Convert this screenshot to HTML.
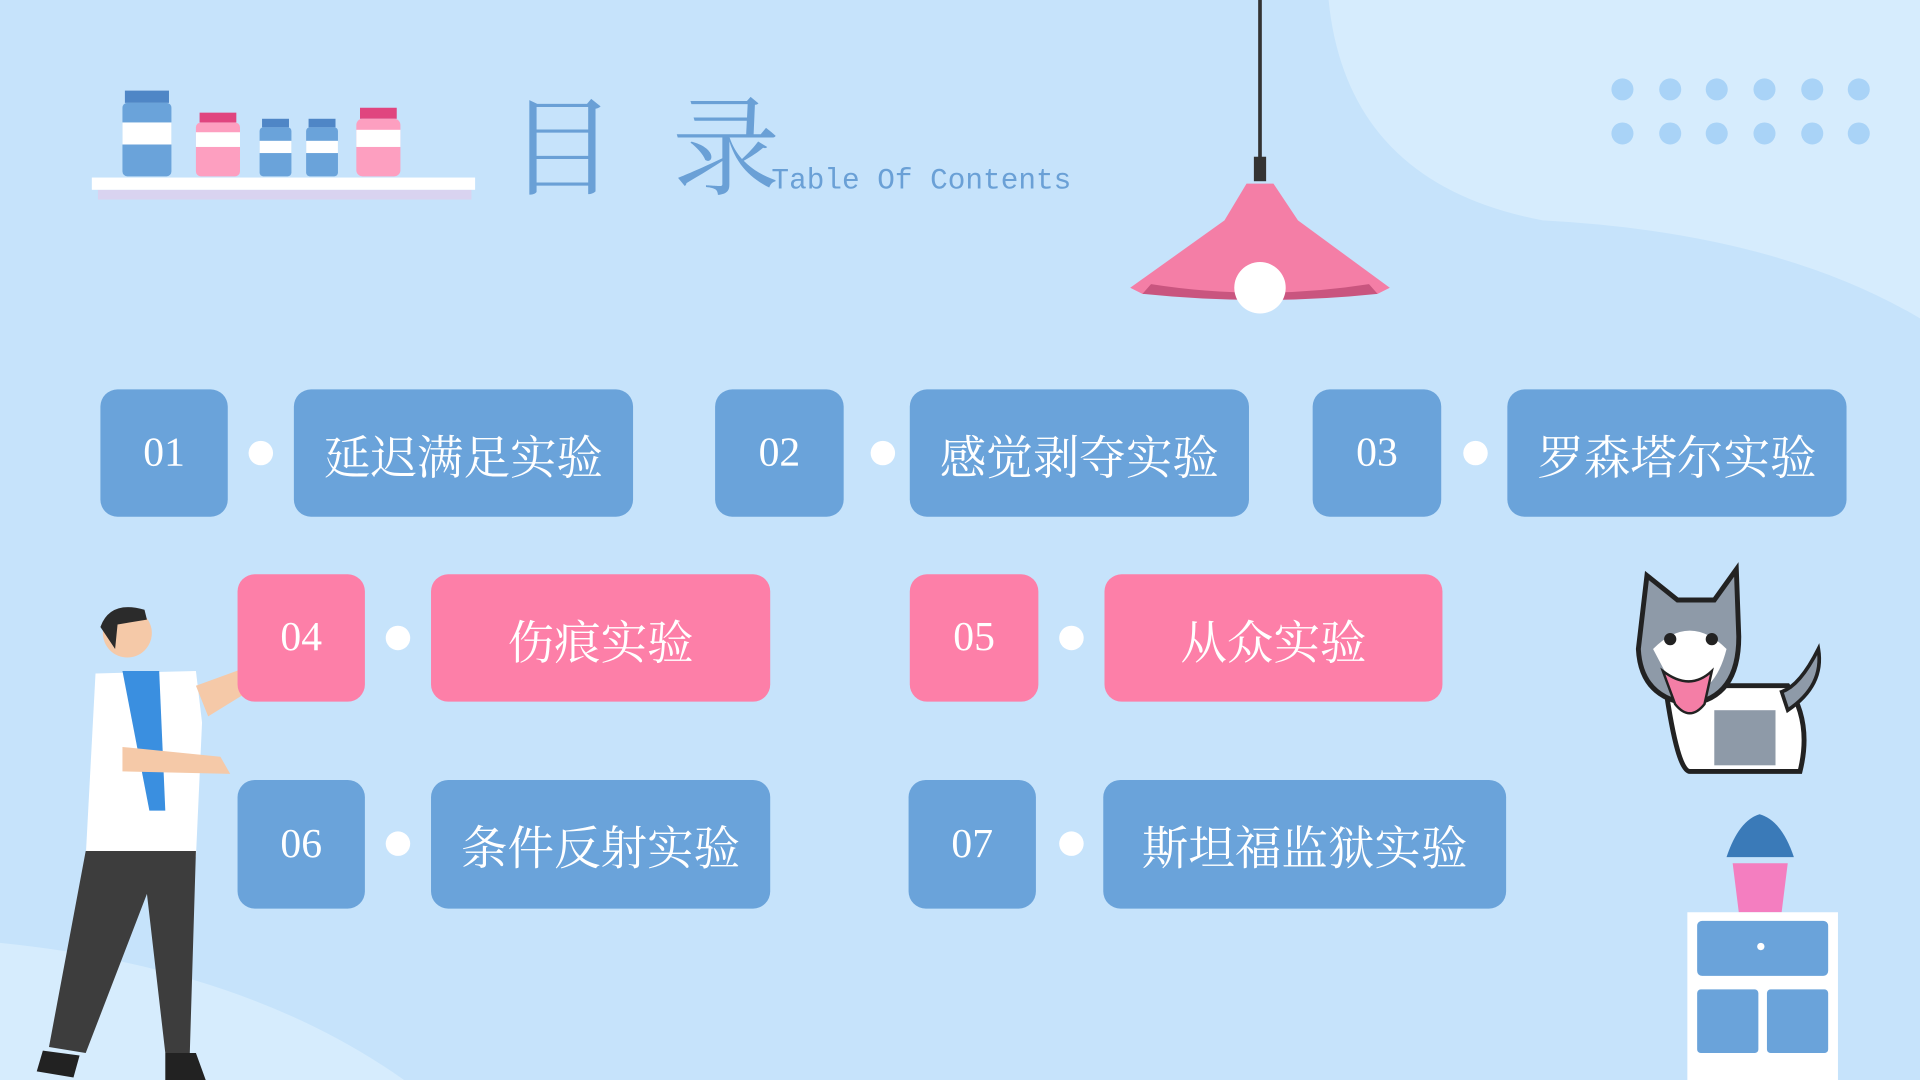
<!DOCTYPE html>
<html><head><meta charset="utf-8"><style>
html,body{margin:0;padding:0;width:1920px;height:1080px;overflow:hidden;background:#c6e3fb}
#w{position:absolute;left:0;top:0;width:1568px;height:882px;transform:scale(1.22449);transform-origin:0 0}
.b{position:absolute;border-radius:14px;color:#fff;display:flex;align-items:center;justify-content:center;font-family:"Liberation Serif","Noto Serif CJK SC",serif}
.bl{background:#6aa3da}.pk{background:#fd7fa8}
.n{font-size:34px}.t{font-size:38px}
.d{position:absolute;width:20px;height:20px;border-radius:50%;background:#fff}
</style></head><body><div id="w">
<svg width="1568" height="882" style="position:absolute;left:0;top:0">
<path d="M1085 0 Q1100 150 1260 180 Q1450 190 1568 260 L1568 0Z" fill="#d6ecfd"/>
<path d="M0 770 Q200 790 330 882 L0 882Z" fill="#d6ecfd"/>
<g fill="#a9d3f7">
<circle cx="1325" cy="73" r="9"/><circle cx="1364" cy="73" r="9"/><circle cx="1402" cy="73" r="9"/><circle cx="1441" cy="73" r="9"/><circle cx="1480" cy="73" r="9"/><circle cx="1518" cy="73" r="9"/>
<circle cx="1325" cy="109" r="9"/><circle cx="1364" cy="109" r="9"/><circle cx="1402" cy="109" r="9"/><circle cx="1441" cy="109" r="9"/><circle cx="1480" cy="109" r="9"/><circle cx="1518" cy="109" r="9"/>
</g>
<rect x="80" y="155" width="305" height="8" fill="#d9d3f0"/>
<rect x="75" y="145" width="313" height="10" fill="#fff"/>
<rect x="102" y="74" width="36" height="10" fill="#4f86c6"/><rect x="100" y="84" width="40" height="60" rx="4" fill="#6aa3da"/><rect x="100" y="100" width="40" height="18" fill="#fff"/>
<rect x="163" y="92" width="30" height="8" fill="#e0457f"/><rect x="160" y="100" width="36" height="44" rx="4" fill="#fd9fc0"/><rect x="160" y="108" width="36" height="12" fill="#fff"/>
<rect x="214" y="97" width="22" height="7" fill="#4f86c6"/><rect x="212" y="104" width="26" height="40" rx="3" fill="#6aa3da"/><rect x="212" y="115" width="26" height="10" fill="#fff"/>
<rect x="252" y="97" width="22" height="7" fill="#4f86c6"/><rect x="250" y="104" width="26" height="40" rx="3" fill="#6aa3da"/><rect x="250" y="115" width="26" height="10" fill="#fff"/>
<rect x="294" y="88" width="30" height="9" fill="#e0457f"/><rect x="291" y="97" width="36" height="47" rx="5" fill="#fd9fc0"/><rect x="291" y="106" width="36" height="14" fill="#fff"/>
<line x1="1029" y1="0" x2="1029" y2="140" stroke="#333" stroke-width="3"/>
<rect x="1024" y="128" width="10" height="20" fill="#333"/>
<path d="M1018 150 L1040 150 L1060 180 L1135 235 L1125 240 L1029 243 L933 240 L923 235 L1000 180Z" fill="#f47ea6"/>
<path d="M940 232 Q1029 246 1118 232 L1125 240 Q1029 250 933 240Z" fill="#c9557f"/>
<circle cx="1029" cy="235" r="21" fill="#fff"/>
<path d="M78 550 L160 548 L165 590 L160 700 L70 700Z" fill="#fff"/>
<path d="M100 548 L130 548 L135 662 L122 662Z" fill="#3a8fe0"/>
<path d="M70 695 L160 695 L155 860 L135 860 L120 730 L70 860 L40 855Z" fill="#3d3d3d"/>
<circle cx="104" cy="517" r="20" fill="#f5c9a8"/>
<path d="M82 512 Q90 490 118 498 L120 506 L96 510 L94 530Z" fill="#2b2b2b"/>
<path d="M160 560 L215 540 L230 532 L235 545 L170 585Z" fill="#f5c9a8"/>
<path d="M100 610 L180 618 L188 632 L100 630Z" fill="#f5c9a8"/>
<path d="M35 858 L65 862 L60 880 L30 875Z M135 860 L160 860 L168 882 L135 882Z" fill="#222"/>
<g>
<path d="M1360 560 Q1370 630 1380 630 L1470 630 Q1480 590 1460 560Z" fill="#fff" stroke="#222" stroke-width="4"/>
<path d="M1460 580 Q1490 560 1485 530 Q1470 560 1455 565Z" fill="#8e9aa8" stroke="#222" stroke-width="3"/>
<path d="M1345 470 L1370 490 L1400 490 L1418 465 L1420 520 Q1420 570 1380 575 Q1340 570 1338 530Z" fill="#8e9aa8" stroke="#222" stroke-width="4"/>
<path d="M1350 530 Q1380 500 1410 530 Q1400 570 1370 568Z" fill="#fff"/>
<path d="M1358 548 Q1380 565 1398 548 L1392 575 Q1380 590 1368 575Z" fill="#f47ea6" stroke="#222" stroke-width="2"/>
<circle cx="1364" cy="522" r="5" fill="#222"/><circle cx="1398" cy="522" r="5" fill="#222"/>
<rect x="1400" y="580" width="50" height="45" fill="#8e9aa8"/>
</g>
<path d="M1415 705 L1460 705 L1455 745 L1420 745Z" fill="#f47ec0"/>
<path d="M1410 700 Q1420 670 1437 665 Q1455 670 1465 700Z" fill="#3a7ab8"/>
<rect x="1378" y="745" width="123" height="137" fill="#fff"/>
<rect x="1386" y="752" width="107" height="45" rx="4" fill="#6aa3da"/>
<rect x="1386" y="808" width="50" height="52" rx="3" fill="#6aa3da"/><rect x="1443" y="808" width="50" height="52" rx="3" fill="#6aa3da"/>
<circle cx="1438" cy="773" r="3" fill="#fff"/>
</svg>
<div style="position:absolute;left:415px;top:52px;font-family:'Liberation Serif','Noto Serif CJK SC',serif;font-size:88px;color:#6aa0d6;letter-spacing:46px;white-space:nowrap">目录</div>
<div style="position:absolute;left:630px;top:135px;font-family:'Liberation Mono',monospace;font-size:24px;color:#6aa0d6;white-space:nowrap">Table Of Contents</div>

<div class="b bl n" style="left:82px;top:318px;width:104px;height:104px">01</div><div class="d" style="left:203px;top:360px"></div>
<div class="b bl t" style="left:240px;top:318px;width:277px;height:104px">延迟满足实验</div>
<div class="b bl n" style="left:584px;top:318px;width:105px;height:104px">02</div><div class="d" style="left:711px;top:360px"></div>
<div class="b bl t" style="left:743px;top:318px;width:277px;height:104px">感觉剥夺实验</div>
<div class="b bl n" style="left:1072px;top:318px;width:105px;height:104px">03</div><div class="d" style="left:1195px;top:360px"></div>
<div class="b bl t" style="left:1231px;top:318px;width:277px;height:104px">罗森塔尔实验</div>

<div class="b pk n" style="left:194px;top:469px;width:104px;height:104px">04</div><div class="d" style="left:315px;top:511px"></div>
<div class="b pk t" style="left:352px;top:469px;width:277px;height:104px">伤痕实验</div>
<div class="b pk n" style="left:743px;top:469px;width:105px;height:104px">05</div><div class="d" style="left:865px;top:511px"></div>
<div class="b pk t" style="left:902px;top:469px;width:276px;height:104px">从众实验</div>

<div class="b bl n" style="left:194px;top:637px;width:104px;height:105px">06</div><div class="d" style="left:315px;top:679px"></div>
<div class="b bl t" style="left:352px;top:637px;width:277px;height:105px">条件反射实验</div>
<div class="b bl n" style="left:742px;top:637px;width:104px;height:105px">07</div><div class="d" style="left:865px;top:679px"></div>
<div class="b bl t" style="left:901px;top:637px;width:329px;height:105px">斯坦福监狱实验</div>
</div></body></html>
